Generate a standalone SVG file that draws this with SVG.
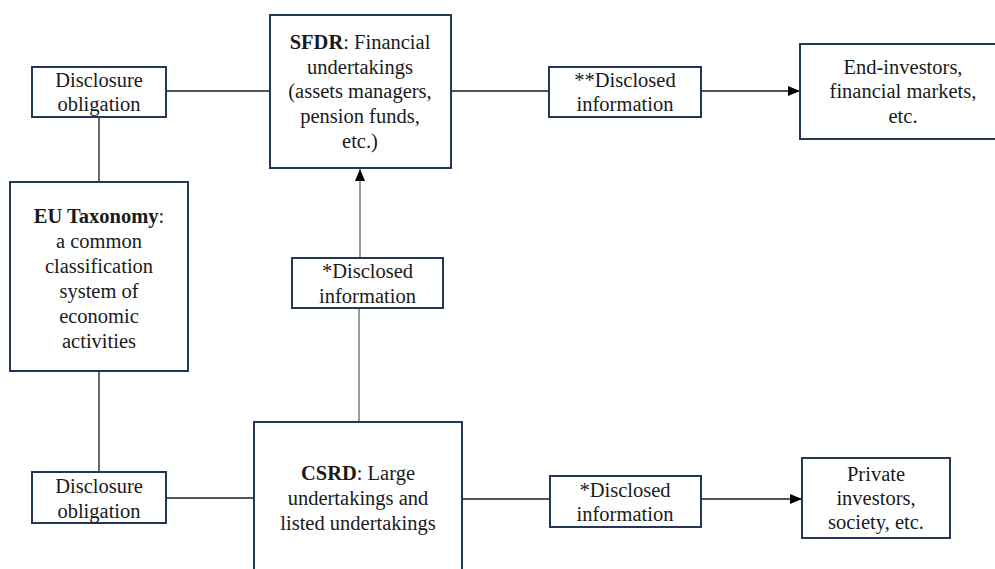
<svg xmlns="http://www.w3.org/2000/svg" width="995" height="569" viewBox="0 0 995 569">
<style>
.box{fill:#fff;stroke:#24365a;stroke-width:2}
.t{font-family:"Liberation Serif","Times New Roman",serif;font-size:20.5px;fill:#1a1a1a;text-anchor:middle}
.b{font-weight:bold}
.ln{stroke:#1a1a1a;stroke-width:1.3;fill:none}
.lg{stroke:#7a7a7a;stroke-width:1.5;fill:none}
</style>
<defs>
<marker id="ah" markerWidth="12" markerHeight="10" refX="12" refY="5" orient="auto" markerUnits="userSpaceOnUse">
<path d="M0,0 L12,5 L0,10 Z" fill="#000"/>
</marker>
</defs>
<rect width="995" height="569" fill="#fff"/>
<g id="connectors">
<line class="ln" x1="166" y1="91" x2="270" y2="91"/>
<line class="ln" x1="451" y1="91" x2="549" y2="91"/>
<line class="ln" x1="701" y1="91" x2="800" y2="91" marker-end="url(#ah)"/>
<line class="ln" x1="99" y1="117" x2="99" y2="182"/>
<line class="ln" x1="99" y1="371" x2="99" y2="472"/>
<line class="ln" x1="166" y1="498" x2="254" y2="498"/>
<line class="ln" x1="462" y1="499" x2="550" y2="499"/>
<line class="ln" x1="701" y1="499" x2="802" y2="499" marker-end="url(#ah)"/>
<line class="lg" x1="359" y1="422" x2="359" y2="308"/>
<line class="lg" x1="360" y1="258" x2="360" y2="169" marker-end="url(#ah)"/>
</g>
<g id="disclosure-top">
<rect class="box" x="32" y="67" width="134" height="50"/>
<text class="t" x="99" y="87">Disclosure</text>
<text class="t" x="99" y="111">obligation</text>
</g>
<g id="sfdr">
<rect class="box" x="270" y="15" width="181" height="153"/>
<text class="t" x="360" y="49"><tspan class="b">SFDR</tspan>: Financial</text>
<text class="t" x="360" y="74">undertakings</text>
<text class="t" x="360" y="98">(assets managers,</text>
<text class="t" x="360" y="123">pension funds,</text>
<text class="t" x="360" y="148">etc.)</text>
</g>
<g id="disclosed-top">
<rect class="box" x="549" y="67" width="152" height="50"/>
<text class="t" x="625" y="87">**Disclosed</text>
<text class="t" x="625" y="111">information</text>
</g>
<g id="end-investors">
<rect class="box" x="800" y="44" width="210" height="95"/>
<text class="t" x="903" y="74">End-investors,</text>
<text class="t" x="903" y="98">financial markets,</text>
<text class="t" x="903" y="123">etc.</text>
</g>
<g id="eu-taxonomy">
<rect class="box" x="10" y="182" width="178" height="189"/>
<text class="t" x="99" y="223"><tspan class="b">EU Taxonomy</tspan>:</text>
<text class="t" x="99" y="248">a common</text>
<text class="t" x="99" y="273">classification</text>
<text class="t" x="99" y="298">system of</text>
<text class="t" x="99" y="323">economic</text>
<text class="t" x="99" y="348">activities</text>
</g>
<g id="disclosed-mid">
<rect class="box" x="292" y="258" width="151" height="50"/>
<text class="t" x="367.5" y="278">*Disclosed</text>
<text class="t" x="367.5" y="303">information</text>
</g>
<g id="disclosure-bottom">
<rect class="box" x="32" y="472" width="134" height="51"/>
<text class="t" x="99" y="493">Disclosure</text>
<text class="t" x="99" y="518">obligation</text>
</g>
<g id="csrd">
<rect class="box" x="254" y="422" width="208" height="160"/>
<text class="t" x="358" y="480"><tspan class="b">CSRD</tspan>: Large</text>
<text class="t" x="358" y="505">undertakings and</text>
<text class="t" x="358" y="530">listed undertakings</text>
</g>
<g id="disclosed-bottom">
<rect class="box" x="550" y="476" width="151" height="51"/>
<text class="t" x="625" y="497">*Disclosed</text>
<text class="t" x="625" y="521">information</text>
</g>
<g id="private">
<rect class="box" x="802" y="458" width="148" height="80"/>
<text class="t" x="876" y="481">Private</text>
<text class="t" x="876" y="505">investors,</text>
<text class="t" x="876" y="529">society, etc.</text>
</g>
</svg>
